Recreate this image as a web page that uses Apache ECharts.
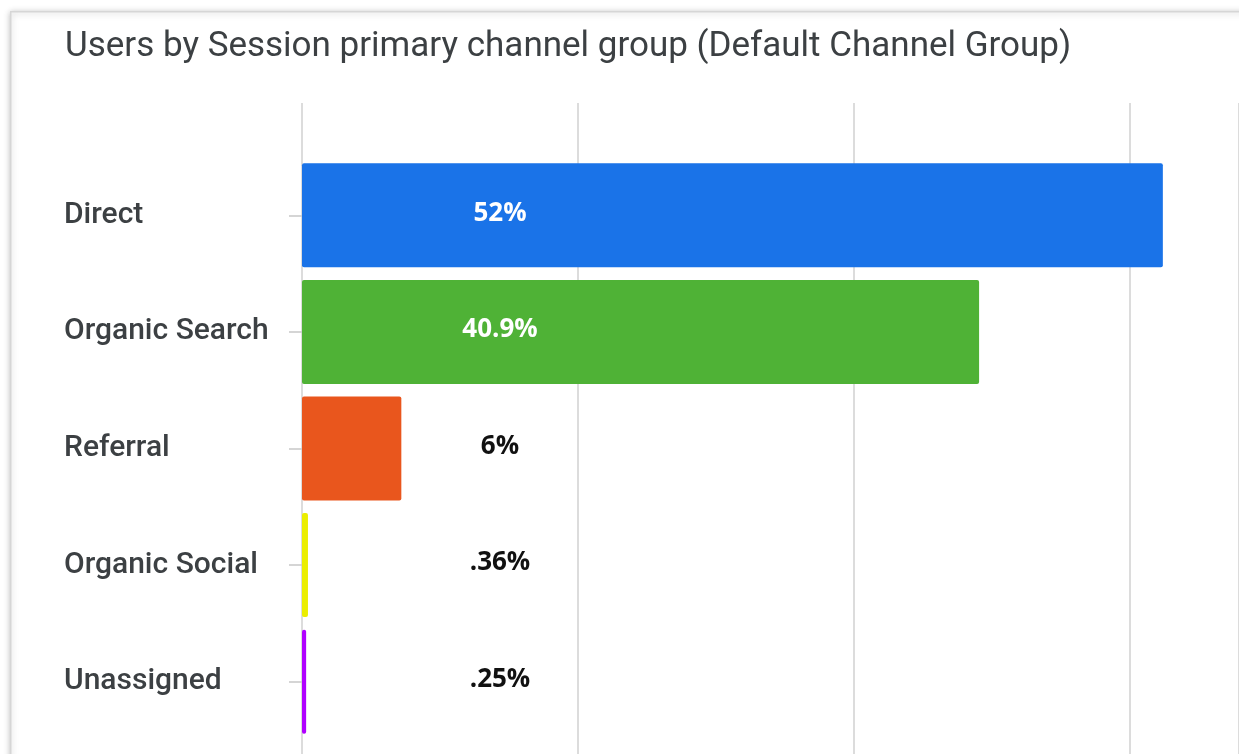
<!DOCTYPE html>
<html>
<head>
<meta charset="utf-8">
<title>Users by Session primary channel group</title>
<script src="https://cdn.jsdelivr.net/npm/echarts@6/dist/echarts.min.js"></script>
<style>
  html, body { margin: 0; padding: 0; background: #ffffff; }
  #chart { width: 1239px; height: 754px; }
</style>
</head>
<body>
<div id="chart"></div>
<script>
// Channel groups, top to bottom
const categories = ['Direct', 'Organic Search', 'Referral', 'Organic Social', 'Unassigned'];
// Share of users per channel, in percent
const shares = [52, 40.9, 6, 0.36, 0.25];
// Fill colour for each channel's bar
const barColors = ['#1a73e8', '#4fb236', '#e9561d', '#ebee00', '#b000ff'];

const chart = echarts.init(document.getElementById('chart'), null, { renderer: 'canvas' });

const LABEL_X = 198;        // label centre, measured from the bar's base
const AXIS_MAX = 56.6;      // plot runs to the right edge of the card
const AXIS_STEP = 50 / 3;

function formatShare(v) {
  const s = String(v);
  return (v < 1 ? s.replace(/^0/, '') : s) + '%';
}

function buildData(labelColors) {
  return shares.map((v, i) => ({
    value: v,
    itemStyle: { color: barColors[i] },
    label: { color: labelColors[i] }
  }));
}

const valueAxisBase = {
  type: 'value',
  min: 0,
  max: AXIS_MAX,
  interval: AXIS_STEP,
  axisLabel: { show: false },
  axisTick: { show: false },
  axisLine: { show: false }
};

const option = {
  backgroundColor: '#ffffff',
  animation: false,
  graphic: [{
    type: 'rect',
    left: 10, top: 11,
    shape: { width: 1300, height: 800 },
    style: {
      fill: '#ffffff',
      stroke: '#d6d6d6',
      lineWidth: 1.5,
      shadowBlur: 6,
      shadowColor: 'rgba(0,0,0,0.25)',
      shadowOffsetY: 1
    },
    z: -10,
    silent: true
  }],
  title: {
    text: 'Users by Session primary channel group (Default Channel Group)',
    left: 60,
    top: 25,
    textStyle: {
      fontFamily: 'Roboto',
      fontWeight: 400,
      fontSize: 35,
      color: '#3c4043'
    }
  },
  grid: [
    { left: 302, right: 0, top: 157, bottom: 14, containLabel: false },
    { left: 302, right: 0, top: 103, bottom: 0, containLabel: false }
  ],
  xAxis: [
    Object.assign({ gridIndex: 0, splitLine: { show: false } }, valueAxisBase),
    Object.assign({
      gridIndex: 1,
      splitLine: { show: true, lineStyle: { color: '#dcdcdc', width: 2 } }
    }, valueAxisBase)
  ],
  yAxis: [
    {
      gridIndex: 0,
      type: 'category',
      inverse: true,
      data: categories,
      axisLine: { show: false },
      axisTick: {
        show: true,
        alignWithLabel: true,
        length: 13,
        lineStyle: { color: '#c8c8c8', width: 1.5 }
      },
      axisLabel: {
        margin: 238,
        align: 'left',
        fontFamily: 'Roboto',
        fontWeight: 500,
        fontSize: 30,
        color: '#3c4043'
      }
    },
    { gridIndex: 1, type: 'value', show: false, min: 0, max: 1 }
  ],
  series: [{
    type: 'bar',
    xAxisIndex: 0,
    yAxisIndex: 0,
    barWidth: 104,
    data: buildData(shares.map(() => '#111111')),
    itemStyle: { borderRadius: 2 },
    label: {
      show: true,
      position: [LABEL_X, '48%'],
      align: 'center',
      verticalAlign: 'middle',
      fontFamily: 'Open Sans',
      fontWeight: 700,
      fontSize: 26,
      formatter: p => formatShare(p.value)
    }
  }]
};

chart.setOption(option);

// Labels that sit on top of their bar are white; those beyond the bar end are dark.
const labelColors = shares.map((v) => {
  const base = chart.convertToPixel({ xAxisIndex: 0 }, 0);
  const end = chart.convertToPixel({ xAxisIndex: 0 }, v);
  const halfText = formatShare(v).length * 8;
  return end > base + LABEL_X + halfText ? '#ffffff' : '#111111';
});
chart.setOption({ series: [{ data: buildData(labelColors) }] });
</script>
</body>
</html>
